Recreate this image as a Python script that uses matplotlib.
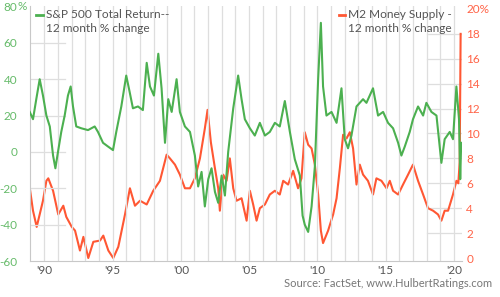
import numpy as np
import matplotlib
matplotlib.use("Agg")
import matplotlib.pyplot as plt

plt.rcParams['font.family'] = ['Lato', 'DejaVu Sans']

# ---- data ----
# S&P 500 total return, 12 month % change (left axis)
sp_years = [1988.93, 1989.17, 1989.41, 1989.66, 1989.90, 1990.15, 1990.40, 1990.64, 1990.81,
            1991.00, 1991.24, 1991.49, 1991.73, 1991.93, 1992.10, 1992.34, 1992.71, 1993.20,
            1993.69, 1993.93, 1994.30, 1994.66, 1995.03, 1995.27, 1995.64, 1996.00, 1996.25,
            1996.49, 1996.86, 1997.22, 1997.50, 1997.74, 1998.03, 1998.35, 1998.59, 1998.84,
            1999.08, 1999.33, 1999.69, 1999.93, 2000.30, 2000.67, 2001.03, 2001.27, 2001.52,
            2001.76, 2002.01, 2002.25, 2002.50, 2002.74, 2002.99, 2003.23, 2003.47, 2003.84,
            2004.20, 2004.45, 2004.69, 2005.06, 2005.42, 2005.79, 2006.16, 2006.52, 2006.89,
            2007.25, 2007.62, 2007.99, 2008.35, 2008.72, 2008.92, 2009.08, 2009.33, 2009.58,
            2009.82, 2010.06, 2010.26, 2010.42, 2010.67, 2011.04, 2011.41, 2011.77, 2012.01,
            2012.25, 2012.50, 2012.87, 2013.35, 2013.60, 2014.08, 2014.45, 2014.82, 2015.18,
            2015.55, 2015.92, 2016.16, 2016.41, 2016.77, 2017.01, 2017.38, 2017.75, 2017.99,
            2018.36, 2018.73, 2019.09, 2019.33, 2019.70, 2019.94, 2020.19, 2020.38, 2020.47,
            2020.54]
sp_change = [22, 18, 29, 40, 31, 20, 14, -2, -9,
             0, 11, 20, 31, 36, 25, 14, 13, 12,
             14, 11, 5, 3, 1, 11, 25, 42, 33,
             24, 25, 23, 49, 36, 31, 54, 35, 5,
             29, 22, 40, 22, 14, 11, -2, -19, -11,
             -30, -15, -9, -22, -28, -13, -24, 0, 24,
             42, 29, 18, 13, 9, 16, 9, 11, 16,
             14, 28, 11, -4, -13, -35, -40, -44, -30,
             -8, 40, 71, 36, 20, 22, 16, 35, 7,
             2, 9, 25, 29, 27, 35, 20, 22, 16,
             13, 5, -2, 3, 11, 18, 25, 20, 27,
             22, 20, -6, 7, 11, 7, 36, 18, -15,
             5]

# M2 money supply, 12 month % change (right axis)
m2_years = [1988.95, 1989.17, 1989.44, 1989.66, 1989.90, 1990.15, 1990.29, 1990.64, 1991.02,
            1991.39, 1991.61, 1992.01, 1992.25, 1992.61, 1992.86, 1993.22, 1993.59, 1994.08,
            1994.32, 1994.69, 1995.05, 1995.42, 1995.91, 1996.27, 1996.64, 1997.01, 1997.50,
            1997.98, 1998.47, 1998.96, 1999.20, 1999.57, 1999.93, 2000.30, 2000.67, 2001.03,
            2001.40, 2001.76, 2001.96, 2002.20, 2002.50, 2002.74, 2002.86, 2003.10, 2003.35,
            2003.59, 2003.84, 2004.08, 2004.45, 2004.82, 2005.06, 2005.30, 2005.55, 2005.79,
            2006.16, 2006.52, 2006.89, 2007.25, 2007.50, 2007.86, 2008.23, 2008.59, 2008.84,
            2009.08, 2009.33, 2009.58, 2009.82, 2010.06, 2010.26, 2010.42, 2010.79, 2011.16,
            2011.41, 2011.65, 2011.89, 2012.14, 2012.38, 2012.62, 2012.87, 2013.11, 2013.35,
            2013.71, 2014.08, 2014.33, 2014.70, 2015.07, 2015.31, 2015.55, 2015.92, 2016.28,
            2016.65, 2017.01, 2017.38, 2017.75, 2018.11, 2018.48, 2018.84, 2019.09, 2019.33,
            2019.58, 2019.94, 2020.19, 2020.33, 2020.43, 2020.50]
m2_change = [5.5, 3.8, 2.5, 3.5, 4.6, 6.2, 6.4, 5.4, 3.5,
             4.2, 3.3, 2.5, 2.2, 0.6, 1.7, 0.0, 1.3, 1.4,
             1.8, 0.6, 0.0, 0.9, 3.5, 5.6, 4.2, 4.6, 4.3,
             5.4, 6.2, 8.3, 8.0, 7.5, 6.7, 5.6, 5.6, 6.4,
             8.0, 10.4, 11.9, 9.3, 7.2, 5.6, 3.8, 6.7, 6.2,
             8.0, 5.6, 4.6, 4.8, 3.0, 5.4, 4.3, 3.0, 4.0,
             4.3, 5.1, 5.4, 5.1, 6.2, 5.9, 7.0, 5.6, 6.4,
             10.1, 9.1, 8.8, 7.5, 5.1, 2.2, 1.2, 2.2, 3.5,
             4.8, 7.2, 9.9, 9.6, 10.1, 8.8, 5.9, 7.5, 6.7,
             6.2, 5.1, 6.4, 6.2, 5.6, 6.2, 5.4, 5.1, 5.9,
             6.7, 7.5, 6.2, 5.1, 4.0, 3.8, 3.5, 3.0, 3.8,
             3.8, 5.1, 6.2, 6.0, 7.7, 18.0]

left_ticks = [80, 60, 40, 20, 0, -20, -40, -60]
right_ticks = [20, 18, 16, 14, 12, 10, 8, 6, 4, 2, 0]
year_ticks = [1990, 1995, 2000, 2005, 2010, 2015, 2020]
year_labels = ["'90", "'95", "'00", "'05", "'10", "'15", "'20"]

GREEN = '#4cb050'
GREEN_TXT = '#66bb6a'
RED = '#ff5733'
RED_TXT = '#ff6347'
GRID = '#dedede'
TXT = '#555555'

fig = plt.figure(figsize=(5.0, 2.97), dpi=100)
ax = fig.add_axes([0.06, 0.1212, 0.864, 0.857])
ax2 = ax.twinx()

ax.set_xlim(1988.95, 2020.6)
ax.set_ylim(-60, 80)
ax2.set_ylim(-0.24, 20.2)

# yearly vertical gridlines
for yr in range(1990, 2021):
    ax.axvline(yr, color=GRID, lw=0.9, zorder=0)

# short horizontal gridlines at the edges
for v in left_ticks[1:-1]:
    ax.axhline(v, xmin=0, xmax=0.082, color=GRID, lw=0.9, zorder=0)
for v in right_ticks[1:-1]:
    ax2.axhline(v, xmin=0.92, xmax=1, color=GRID, lw=0.9, zorder=0)

ax.plot(sp_years, sp_change, color=GREEN, lw=1.5, zorder=3)
ax2.plot(m2_years, m2_change, color=RED, lw=1.5, zorder=2)
ax.set_zorder(ax2.get_zorder() + 1)
ax.patch.set_visible(False)

for a in (ax, ax2):
    for s in ('top', 'right'):
        a.spines[s].set_visible(False)
ax2.spines['left'].set_visible(False)
ax2.spines['bottom'].set_visible(False)
ax.spines['left'].set_color('#c8c8c8')
ax.spines['bottom'].set_color('#c8c8c8')

ax.set_yticks(left_ticks)
ax.set_yticklabels([str(v) for v in left_ticks])
ax.tick_params(axis='y', length=0, pad=9, labelcolor=GREEN_TXT, labelsize=8.5)
ax.text(-0.029, 80, '%', transform=ax.get_yaxis_transform(), ha='left', va='center',
        color=GREEN_TXT, fontsize=8.5)

ax2.set_yticks(right_ticks)
ax2.set_yticklabels(['20%'] + [str(v) for v in right_ticks[1:]])
ax2.tick_params(axis='y', length=0, pad=3, labelcolor=RED_TXT, labelsize=8.5)

ax.set_xticks(year_ticks)
ax.set_xticklabels(year_labels)
ax.tick_params(axis='x', length=0, pad=3, labelcolor=TXT, labelsize=8.5)

# legends
ax.plot([0.015, 0.03], [0.965, 0.965], transform=ax.transAxes, color=GREEN, lw=2, zorder=5)
ax.text(0.037, 0.94, 'S&P 500 Total Return--\n12 month % change', transform=ax.transAxes,
        ha='left', va='center', color=TXT, fontsize=8.6, linespacing=1.3, zorder=5)
ax.plot([0.715, 0.73], [0.965, 0.965], transform=ax.transAxes, color=RED, lw=2, zorder=5)
ax.text(0.736, 0.94, 'M2 Money Supply -\n12 month % change', transform=ax.transAxes,
        ha='left', va='center', color=TXT, fontsize=8.6, linespacing=1.3, zorder=5)

fig.text(0.984, 0.045, 'Source: FactSet, www.HulbertRatings.com', ha='right', va='center',
         color='#777777', fontsize=8)

fig.savefig('out.png', dpi=100)
